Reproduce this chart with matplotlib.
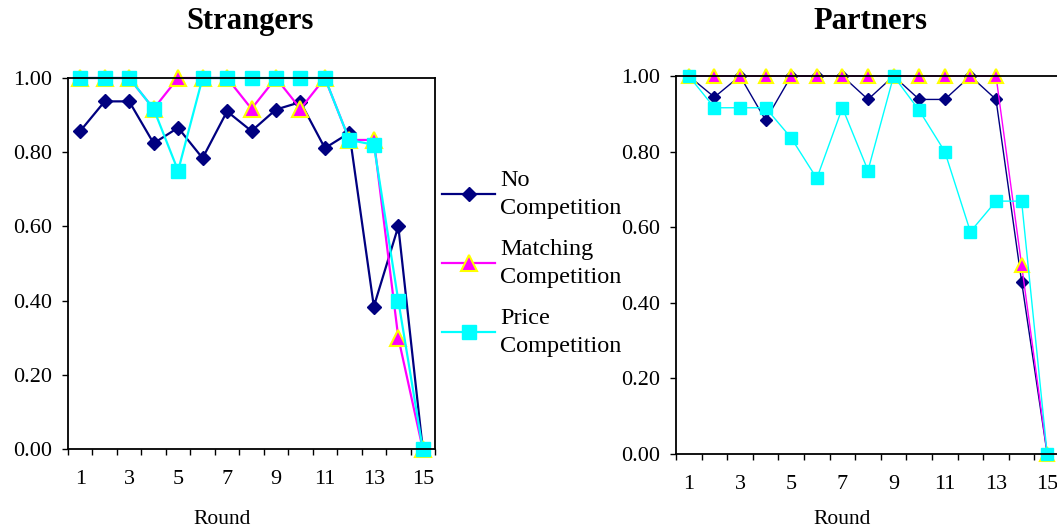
import numpy as np
import matplotlib.pyplot as plt
from matplotlib.ticker import MultipleLocator, FormatStrFormatter

plt.rcParams['font.family'] = ['Liberation Serif', 'DejaVu Serif']

rounds = np.arange(1, 16)

# Strangers
str_no = [0.857, 0.937, 0.937, 0.824, 0.866, 0.784, 0.910, 0.857, 0.915, 0.935, 0.811, 0.852, 0.384, 0.600, 0.0]
str_match = [1.0, 1.0, 1.0, 0.917, 1.0, 1.0, 1.0, 0.917, 1.0, 0.917, 1.0, 0.833, 0.833, 0.300, 0.0]
str_price = [1.0, 1.0, 1.0, 0.917, 0.750, 1.0, 1.0, 1.0, 1.0, 1.0, 1.0, 0.833, 0.820, 0.400, 0.0]

# Partners
par_no = [1.0, 0.944, 1.0, 0.883, 1.0, 1.0, 1.0, 0.938, 1.0, 0.938, 0.938, 1.0, 0.938, 0.456, 0.0]
par_match = [1.0, 1.0, 1.0, 1.0, 1.0, 1.0, 1.0, 1.0, 1.0, 1.0, 1.0, 1.0, 1.0, 0.500, 0.0]
par_price = [1.0, 0.916, 0.916, 0.916, 0.836, 0.729, 0.916, 0.750, 1.0, 0.909, 0.800, 0.588, 0.669, 0.669, 0.0]

labels = ['No\nCompetition', 'Matching\nCompetition', 'Price\nCompetition']
navy, magenta, cyan, yellow = '#000080', '#FF00FF', '#00FFFF', '#FFFF00'

W, H = 1057, 531
fig = plt.figure(figsize=(W / 100, H / 100), dpi=100)
ax1 = fig.add_axes([68 / W, 82 / H, (435 - 68) / W, (449 - 78) / H])
ax2 = fig.add_axes([676 / W, 77 / H, (1060 - 676) / W, (454 - 76) / H])


def draw(ax, no, match, price, lw, ms_d, ms_t, ms_s):
    h1, = ax.plot(rounds, no, color=navy, lw=lw, marker='D', ms=ms_d,
                  mfc=navy, mec=navy, clip_on=False)
    h2, = ax.plot(rounds, match, color=magenta, lw=lw, marker='^', ms=ms_t,
                  mfc=magenta, mec=yellow, mew=1.5, clip_on=False)
    h3, = ax.plot(rounds, price, color=cyan, lw=lw, marker='s', ms=ms_s,
                  mfc=cyan, mec=cyan, clip_on=False)
    ax.set_xlim(0.5, 15.5)
    ax.set_ylim(0, 1)
    ax.yaxis.set_major_locator(MultipleLocator(0.2))
    ax.yaxis.set_major_formatter(FormatStrFormatter('%.2f'))
    ax.set_xticks(rounds[::2])
    ax.set_xticks(np.arange(0.5, 16, 1), minor=True)
    ax.tick_params(axis='x', which='major', length=0, pad=15, labelsize=16)
    ax.tick_params(axis='x', which='minor', length=4, width=1, direction='out')
    ax.tick_params(axis='y', which='major', length=4.5, width=1, direction='out',
                   pad=7, labelsize=16)
    for s in ax.spines.values():
        s.set_linewidth(1.3)
    return [h1, h2, h3]


handles = draw(ax1, str_no, str_match, str_price, 1.6, 7.0, 11, 10)
draw(ax2, par_no, par_match, par_price, 1.0, 6.6, 9.5, 8.6)

fig.text(250 / W, 1 - 29 / H, 'Strangers', ha='center', va='baseline',
         fontsize=22, fontweight='bold')
fig.text(870 / W, 1 - 29 / H, 'Partners', ha='center', va='baseline',
         fontsize=22, fontweight='bold')
fig.text(222 / W, 1 - 520 / H, 'Round', ha='center', va='center', fontsize=15.5)
fig.text(842 / W, 1 - 520 / H, 'Round', ha='center', va='center', fontsize=15.5)

leg = fig.legend(handles, labels, loc='upper left', bbox_to_anchor=(442 / W, 1 - 170 / H),
                 frameon=False, fontsize=17.5, handlelength=2.2, handletextpad=0.2,
                 labelspacing=0.82, borderpad=0, borderaxespad=0)
for t in leg.get_texts():
    t.set_linespacing(1.45)

fig.savefig('out.png', dpi=100)
